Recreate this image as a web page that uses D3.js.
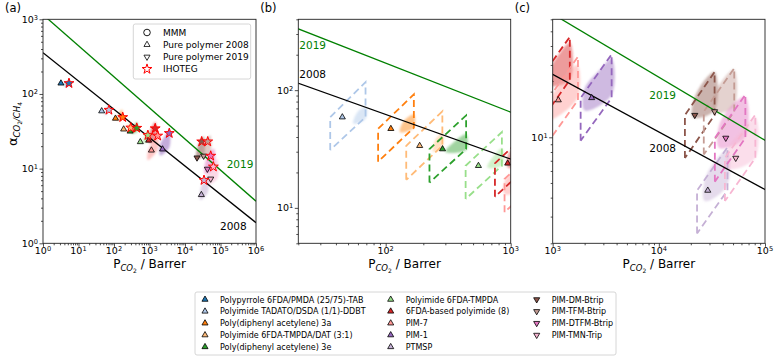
<!DOCTYPE html>
<html>
<head>
<meta charset="utf-8">
<script src="https://cdn.jsdelivr.net/npm/d3@7"></script>
<style>
    body { margin: 0; background: #fff; }
    text { font-family: "DejaVu Sans", sans-serif; fill: #000; }
</style>
</head>
<body>
<div id="chart"></div>
<script>

// ---- data ----
const polymerNames = [
    "Polypyrrole 6FDA/PMDA (25/75)-TAB", "Polyimide TADATO/DSDA (1/1)-DDBT",
    "Poly(diphenyl acetylene) 3a", "Polyimide 6FDA-TMPDA/DAT (3:1)",
    "Poly(diphenyl acetylene) 3e", "Polyimide 6FDA-TMPDA", "6FDA-based polyimide (8)",
    "PIM-7", "PIM-1", "PTMSP", "PIM-DM-Btrip", "PIM-TFM-Btrip", "PIM-DTFM-Btrip", "PIM-TMN-Trip"
];
const polymerYear = [2008, 2008, 2008, 2008, 2008, 2008, 2008, 2008, 2008, 2008, 2019, 2019, 2019, 2019];

// pure polymer points
const pureP = [3.2, 45, 110, 187, 285, 552, 946, 1130, 2330, 28900, 21800, 33500, 42700, 53000];
const pureAlpha = [139, 59, 47, 33.7, 31.6, 22.8, 23.9, 17.6, 18.2, 4.46, 14.0, 14.8, 9.9, 7.3];

// IHOTEG points
const starP = [5.4, 72, 176, 297, 438, 900, 1450, 1700, 3610, 34300, 29500, 43700, 53000, 63000];
const starAlpha = [139, 61, 48.7, 35.3, 35, 28, 34.5, 27.5, 29.8, 7.0, 23, 23, 14.8, 10.6];

// dashed regions: [P left, P right] and alpha at [bottom-left, top-left, top-right, bottom-right]
const regionP = [
    [2.5, 4.9], [36, 69], [87, 168], [146, 284], [224, 440], [436, 850], [748, 1450],
    [893, 1730], [1833, 3590], [22900, 44300], [17600, 33500], [26500, 51300], [33700, 65300], [41900, 81100]
];
const regionAlpha = [
    [72, 139, 268, 139], [31, 59, 117, 59], [24.7, 47, 92, 48], [17.3, 33.7, 66, 33.7],
    [16.4, 31.6, 61, 31.6], [11.9, 22.8, 44, 22.8], [12.4, 23.9, 46, 23.9], [9.2, 17.6, 34, 17.6],
    [9.5, 18.2, 35.2, 18.2], [2.32, 4.46, 8.6, 4.46], [7.3, 14.0, 27, 14.0], [7.7, 14.8, 28.5, 14.8],
    [5.1, 9.9, 19.1, 9.9], [3.8, 7.3, 14.1, 7.3]
];

// outline of the scattered simulation clouds
const cloudP = [
    [4.0, 5.4, 5.6, 4.5], [55, 69, 70, 60], [130, 168, 168, 140], [240, 284, 284, 250],
    [300, 440, 440, 360], [650, 850, 850, 720], [950, 1450, 1450, 1100, 950],
    [900, 1700, 1700, 1150, 900], [2000, 3590, 3590, 2800, 2000], [27000, 44000, 44000, 33000, 27000],
    [21000, 33500, 33500, 26000, 21000], [33000, 51000, 51000, 40000, 33000],
    [37000, 65000, 65000, 48000, 37000], [45000, 81000, 81000, 60000, 45000]
];
const cloudAlpha = [
    [128, 132, 150, 145], [52, 57, 72, 66], [44, 48, 62, 55], [30, 33, 43, 38],
    [30, 31, 42, 37], [22, 23, 32, 27], [22, 24, 42, 34, 28],
    [13, 18, 30, 22, 17], [15, 19, 33, 28, 21], [3.8, 4.8, 8.2, 6.8, 5.2],
    [13.5, 15, 27, 23, 17], [14.5, 16, 28, 24, 19],
    [8.5, 10, 18.5, 16, 12], [6.2, 7.3, 13.5, 11, 8.5]
];

// upper bounds
const boundYears = ["2008", "2019"];
const boundP = [[1, 1e6], [1, 1e6]];
const boundAlpha = [[357, 1.89], [1154, 3.66]];

const legendLabels = ["MMM", "Pure polymer 2008", "Pure polymer 2019", "IHOTEG"];

// ---- styling ----
const colors = ['#1f77b4', '#aec7e8', '#ff7f0e', '#ffbb78', '#2ca02c', '#98df8a', '#d62728',
                '#ff9896', '#9467bd', '#c5b0d5', '#8c564b', '#c49c94', '#e377c2', '#f7b6d2'];
const boundColors = ["#000", "green"];

const W = 775, H = 358;
const plotTop = 19.3, plotBottom = 243.3;

const panels = [
    {label: "(a)", left: 43, right: 256, xDomain: [1, 1e6], yDomain: [1, 1000],
        regions: false, stars: true, legend: true, tags: [[220, 230], [226.7, 168]]},
    {label: "(b)", left: 298.3, right: 510.7, xDomain: [20, 1000], yDomain: [5, 400],
        regions: true, stars: false, legend: false, tags: [[299.3, 78.3], [299.3, 49]]},
    {label: "(c)", left: 552.7, right: 765, xDomain: [1e3, 1e5], yDomain: [2, 60],
        regions: true, stars: false, legend: false, tags: [[649.3, 151.7], [649.3, 99.3]]}
];

const svg = d3.select("#chart").append("svg")
    .attr("width", W)
    .attr("height", H);

const defs = svg.append("defs");
defs.append("filter")
    .attr("id", "blur")
    .attr("x", "-50%").attr("y", "-50%").attr("width", "200%").attr("height", "200%")
    .append("feGaussianBlur")
    .attr("stdDeviation", 1.1);

const triUp = d3.symbol().type(d3.symbolTriangle).size(16);
const star = d3.symbol().type(d3.symbolStar).size(30);

function logTicks(domain) {
    let major = [], minor = [];
    let lo = Math.floor(Math.log10(domain[0])), hi = Math.ceil(Math.log10(domain[1]));
    for (let e = lo; e <= hi; e++) {
        for (let k = 1; k < 10; k++) {
            let v = k * Math.pow(10, e);
            if (v < domain[0] * 0.999 || v > domain[1] * 1.001) continue;
            (k === 1 ? major : minor).push(v);
        }
    }
    return {major, minor};
}

function powLabel(sel, d) {
    sel.append("tspan").text("10");
    sel.append("tspan")
        .attr("dy", "-0.45em")
        .attr("font-size", "0.7em")
        .text(Math.round(Math.log10(d)));
}

function marker(g, type, x, y, fill, stroke) {
    if (type === "star") {
        g.append("path").attr("d", star)
            .attr("transform", `translate(${x},${y})`)
            .attr("fill", fill).attr("stroke", stroke).attr("stroke-width", 1);
    } else if (type === "circle") {
        g.append("circle").attr("cx", x).attr("cy", y).attr("r", 3.3)
            .attr("fill", fill).attr("stroke", stroke).attr("stroke-width", 0.9);
    } else {
        g.append("path").attr("d", triUp)
            .attr("transform", `translate(${x},${y})` + (type === "down" ? " rotate(180)" : ""))
            .attr("fill", fill).attr("stroke", stroke).attr("stroke-width", 0.8);
    }
}

panels.forEach((p, pi) => {
    let x = d3.scaleLog().domain(p.xDomain).range([p.left, p.right]);
    let y = d3.scaleLog().domain(p.yDomain).range([plotBottom, plotTop]);

    defs.append("clipPath").attr("id", "clip" + pi)
        .append("rect")
        .attr("x", p.left).attr("y", plotTop)
        .attr("width", p.right - p.left).attr("height", plotBottom - plotTop);

    let g = svg.append("g").attr("clip-path", `url(#clip${pi})`);

    // simulation clouds
    let cloudLine = d3.line().curve(d3.curveCatmullRomClosed.alpha(0.5))
        .x(d => x(d[0])).y(d => y(d[1]));
    g.append("g").attr("filter", "url(#blur)")
        .selectAll("path")
        .data(cloudP.map((ps, i) => ({i, pts: ps.map((v, j) => [v, cloudAlpha[i][j]])})))
        .join("path")
        .attr("d", d => cloudLine(d.pts))
        .attr("fill", d => colors[d.i])
        .attr("fill-opacity", p.regions ? 0.45 : 0.55);

    // dashed regions
    if (p.regions) {
        g.append("g").selectAll("path")
            .data(regionP.map((r, i) => ({i, r, a: regionAlpha[i]})))
            .join("path")
            .attr("d", d => d3.line()([
                [x(d.r[0]), y(d.a[0])], [x(d.r[0]), y(d.a[1])],
                [x(d.r[1]), y(d.a[2])], [x(d.r[1]), y(d.a[3])], [x(d.r[0]), y(d.a[0])]
            ]))
            .attr("fill", "none")
            .attr("stroke", d => colors[d.i])
            .attr("stroke-width", 1.8)
            .attr("stroke-dasharray", "7,4");
    }

    // upper bounds
    g.selectAll(".bound")
        .data(boundYears)
        .join("path")
        .attr("class", "bound")
        .attr("d", (d, i) => d3.line()(boundP[i].map((v, j) => [x(v), y(boundAlpha[i][j])])))
        .attr("fill", "none")
        .attr("stroke", (d, i) => boundColors[i])
        .attr("stroke-width", 1.3);

    // pure polymers
    pureP.forEach((v, i) => {
        marker(g, polymerYear[i] === 2019 ? "down" : "up", x(v), y(pureAlpha[i]), colors[i], "#000");
    });

    // IHOTEG
    if (p.stars) {
        starP.forEach((v, i) => marker(g, "star", x(v), y(starAlpha[i]), colors[i], "red"));
    }

    // frame
    svg.append("rect")
        .attr("x", p.left).attr("y", plotTop)
        .attr("width", p.right - p.left).attr("height", plotBottom - plotTop)
        .attr("fill", "none").attr("stroke", "#222").attr("stroke-width", 0.9);

    // axes
    let xt = logTicks(p.xDomain), yt = logTicks(p.yDomain);
    [[xt.major, 3.5], [xt.minor, 2]].forEach(([vals, len]) => {
        let ax = svg.append("g").attr("transform", `translate(0,${plotBottom})`)
            .call(d3.axisBottom(x).tickValues(vals).tickSize(len).tickFormat(""));
        ax.select(".domain").remove();
        ax.selectAll("line").attr("stroke", "#222").attr("stroke-width", 0.8);
    });
    [[yt.major, 3.5], [yt.minor, 2]].forEach(([vals, len]) => {
        let ax = svg.append("g").attr("transform", `translate(${p.left},0)`)
            .call(d3.axisLeft(y).tickValues(vals).tickSize(len).tickFormat(""));
        ax.select(".domain").remove();
        ax.selectAll("line").attr("stroke", "#222").attr("stroke-width", 0.8);
    });

    svg.append("g").selectAll("text")
        .data(xt.major)
        .join("text")
        .attr("x", d => x(d)).attr("y", plotBottom + 11)
        .attr("text-anchor", "middle")
        .attr("font-size", 9.5)
        .each(function (d) { powLabel(d3.select(this), d); });

    svg.append("g").selectAll("text")
        .data(yt.major)
        .join("text")
        .attr("x", p.left - 5).attr("y", d => y(d) + 3.5)
        .attr("text-anchor", "end")
        .attr("font-size", 9.5)
        .each(function (d) { powLabel(d3.select(this), d); });

    // x label
    let xl = svg.append("text")
        .attr("x", (p.left + p.right) / 2).attr("y", 268)
        .attr("text-anchor", "middle")
        .attr("font-size", 12);
    xl.append("tspan").text("P");
    xl.append("tspan").attr("dy", 3).attr("font-size", 8.5).attr("font-style", "italic").text("CO");
    xl.append("tspan").attr("dy", 1.5).attr("font-size", 6).text("2");
    xl.append("tspan").attr("dy", -4.5).text(" / Barrer");

    // bound tags
    boundYears.forEach((yr, i) => {
        svg.append("text")
            .attr("x", p.tags[i][0]).attr("y", p.tags[i][1])
            .attr("font-size", 10.5)
            .style("fill", boundColors[i])
            .text(yr);
    });

    // panel label
    svg.append("text")
        .attr("x", p.left - 38).attr("y", 12)
        .attr("font-size", 11.5)
        .text(p.label);

    // inner legend
    if (p.legend) {
        let lg = svg.append("g");
        lg.append("rect")
            .attr("x", 133.3).attr("y", 24).attr("width", 117.4).attr("height", 55)
            .attr("rx", 2).attr("fill", "#fff").attr("fill-opacity", 0.8)
            .attr("stroke", "#ccc").attr("stroke-width", 0.8);
        let types = ["circle", "up", "down", "star"];
        legendLabels.forEach((t, i) => {
            let cy = 32.5 + i * 12.2;
            marker(lg, types[i], 147, cy, "none", i === 3 ? "red" : "#000");
            lg.append("text").attr("x", 163).attr("y", cy + 3.2)
                .attr("font-size", 9).text(t);
        });
    }
});

// y label
let yl = svg.append("text")
    .attr("transform", "translate(17,124) rotate(-90)")
    .attr("text-anchor", "middle")
    .attr("font-size", 13);
yl.append("tspan").text("α");
yl.append("tspan").attr("dy", 3).attr("font-size", 8.5).attr("font-style", "italic").text("CO");
yl.append("tspan").attr("dy", 1.5).attr("font-size", 6).text("2");
yl.append("tspan").attr("dy", -1.5).attr("font-size", 8.5).attr("font-style", "italic").text("/CH");
yl.append("tspan").attr("dy", 1.5).attr("font-size", 6).text("4");

// bottom legend
let bl = svg.append("g");
bl.append("rect")
    .attr("x", 195).attr("y", 292).attr("width", 421).attr("height", 63)
    .attr("rx", 2).attr("fill", "#fff")
    .attr("stroke", "#ccc").attr("stroke-width", 0.8);
const colMarkerX = [205, 390.7, 536.7];
polymerNames.forEach((name, i) => {
    let col = Math.floor(i / 5), row = i % 5;
    let cy = 299.5 + row * 11.85;
    marker(bl, polymerYear[i] === 2019 ? "down" : "up", colMarkerX[col], cy, colors[i], "#000");
    bl.append("text")
        .attr("x", colMarkerX[col] + 15).attr("y", cy + 3)
        .attr("font-size", 8)
        .text(name);
});

</script>
</body>
</html>
